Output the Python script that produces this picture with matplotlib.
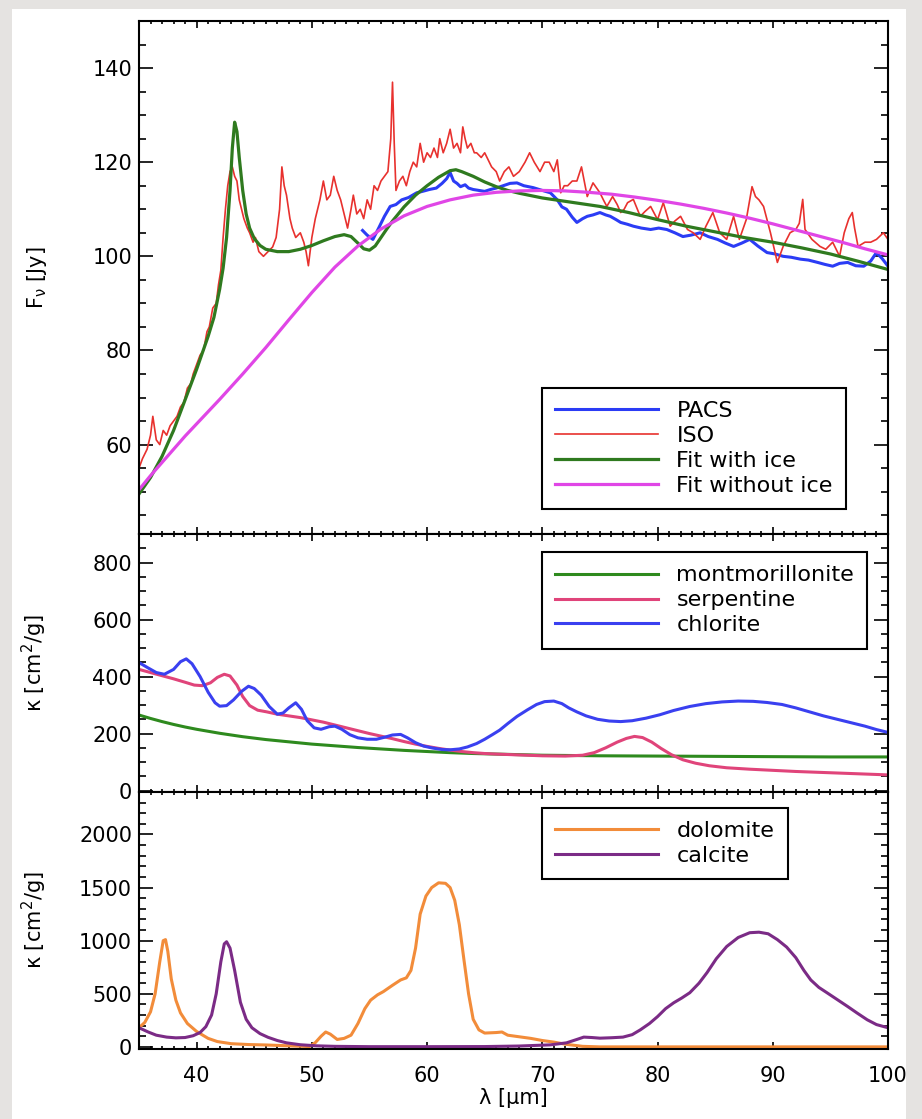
import matplotlib
matplotlib.use('Agg')
import matplotlib.pyplot as plt
from matplotlib.patches import Rectangle
from matplotlib.ticker import MultipleLocator

# ---- top panel: spectra and fits ----
iso_wl = [35.0, 35.3, 35.7, 36.0, 36.2, 36.5, 36.8, 37.1, 37.4, 37.7, 38.0, 38.3, 38.6, 38.9, 39.2,
          39.5, 39.7, 40.0, 40.3, 40.6, 40.9, 41.1, 41.4, 41.7, 41.9, 42.1, 42.3, 42.5, 42.7, 42.9,
          43.1, 43.3, 43.5, 43.7, 43.9, 44.1, 44.4, 44.6, 44.9, 45.1, 45.4, 45.8, 46.2, 46.6, 46.9,
          47.2, 47.4, 47.6, 47.8, 48.1, 48.3, 48.6, 49.0, 49.3, 49.5, 49.7, 50.0, 50.3, 50.7, 51.0,
          51.3, 51.6, 51.9, 52.2, 52.5, 52.8, 53.1, 53.4, 53.6, 53.9, 54.2, 54.5, 54.8, 55.1, 55.4,
          55.7, 56.0, 56.3, 56.6, 56.85, 57.0, 57.15, 57.3, 57.6, 57.9, 58.2, 58.5, 58.8, 59.1, 59.4,
          59.7, 60.0, 60.3, 60.6, 60.9, 61.1, 61.4, 61.7, 62.0, 62.3, 62.6, 62.9, 63.1, 63.3, 63.5,
          63.8, 64.1, 64.3, 64.7, 65.0, 65.2, 65.6, 66.0, 66.3, 66.7, 67.1, 67.5, 68.0, 68.5, 68.9,
          69.3, 69.8, 70.2, 70.6, 71.0, 71.3, 71.6, 71.9, 72.2, 72.6, 73.0, 73.4, 73.9, 74.4, 75.0,
          75.3, 75.6, 76.1, 76.5, 76.8, 77.1, 77.4, 77.9, 78.5, 78.9, 79.4, 80.0, 80.5, 81.1, 81.5,
          82.0, 82.6, 83.1, 83.7, 84.2, 84.8, 85.4, 86.0, 86.6, 87.1, 87.7, 88.2, 88.5, 88.8, 89.2,
          89.8, 90.4, 90.9, 91.5, 92.0, 92.3, 92.6, 92.8, 93.4, 94.1, 94.6, 95.2, 95.8, 96.2, 96.6,
          96.9, 97.1, 97.4, 98.0, 98.5, 99.0, 99.6, 100.0]
iso_flux = [55, 57, 59, 62, 66, 61, 60, 63, 62, 64, 65, 66, 68, 69, 72,
            73, 75, 77, 79, 80, 84, 85, 89, 90, 94, 97, 104, 110, 115, 118,
            119, 117, 116, 112, 110, 108, 106, 105, 103, 104, 101, 100, 101, 102, 104,
            110, 119, 115, 113, 108, 106, 104, 105, 103, 101, 98, 104, 108, 112, 116,
            112, 113, 117, 114, 112, 109, 106, 110, 113, 109, 110, 108, 112, 110, 115,
            114, 116, 117, 118, 125, 137, 124, 114, 116, 117, 115, 118, 120, 119, 124,
            120, 122, 121, 123, 121, 125, 122, 124, 127, 123, 124, 122, 127.5, 125, 123,
            124, 122, 122, 121, 122, 121, 119, 118, 116, 118, 119, 117, 118, 120, 122,
            120, 118, 120, 120, 118, 120.5, 113.5, 115, 115, 116, 116, 119, 112.7, 115.6, 113.5,
            112, 110.6, 112.7, 111, 109.3, 110, 111.4, 112.1, 108.5, 109.5, 110.6, 107.8, 111.4, 106.4, 107.5,
            108.5, 105.7, 105, 103.6, 106.4, 109.3, 105, 103.6, 108.5, 103.6, 107.8, 114.8, 112.7, 112, 110.6,
            105, 98.7, 102.1, 105, 105.7, 107, 112.1, 105.7, 103.6, 102.1, 101.5, 103, 100, 105, 108,
            109.3, 106, 102.1, 103, 103, 103.6, 105, 103.6]

pacs_wl = [54.4, 54.8, 55.3, 55.8, 56.3, 56.8, 57.3, 57.8, 58.4, 59.1, 59.6, 60.2, 60.8, 61.3, 61.7,
           62.0, 62.3, 62.6, 62.9, 63.3, 63.6, 64.0, 64.5, 65.0, 65.5, 66.0, 66.6, 67.2, 67.8, 68.4,
           69.2, 70.0, 70.7, 71.3, 71.7, 72.1, 72.6, 73.0, 73.5, 73.9, 74.4, 75.0, 75.5, 75.9, 76.4,
           76.8, 77.4, 77.9, 78.6, 79.4, 80.1, 80.8, 81.5, 82.2, 82.9, 83.7, 84.4, 85.2, 85.9, 86.6,
           87.3, 88.0, 88.7, 89.5, 90.2, 90.9, 91.6, 92.4, 93.1, 93.9, 94.5, 95.2, 95.8, 96.5, 97.2,
           97.9, 98.5, 99.0, 99.5, 100.0]
pacs_flux = [105.5, 104.5, 103.6, 106, 108.5, 110.6, 111, 112, 112.5, 113.5, 113.8, 114.2, 114.5, 115.5, 116.5,
             117.8, 116, 115.5, 114.8, 115.2, 114.5, 114.2, 114, 113.8, 114.2, 114.5, 115, 115.5, 115.6, 115,
             114.6, 114, 113.5, 112, 110.5, 110, 108.3, 107.2, 108, 108.5, 108.8, 109.3, 108.8, 108.5, 107.8,
             107.2, 106.8, 106.4, 106, 105.7, 106, 105.7, 105, 104.2, 104.5, 105, 104.2, 103.6, 102.8, 102.1,
             102.8, 103.6, 102.2, 100.8, 100.5, 100, 99.8, 99.4, 99.2, 98.7, 98.3, 97.9, 98.5, 98.7, 98,
             97.9, 99, 100.8, 99.5, 97.9]

ice_wl = [35, 36, 37, 38, 39, 40, 40.5, 41, 41.5, 42, 42.3, 42.6, 42.9, 43.1, 43.3, 43.5, 43.7, 44,
          44.3, 44.6, 45, 45.5, 46, 47, 48, 49, 50, 51, 52, 52.8, 53.4, 54, 54.5, 55, 55.5, 56, 56.5,
          57, 58, 59, 60, 61, 62, 62.5, 63, 64, 65, 66, 67, 68, 70, 72.5, 75, 77.5, 80, 82.5, 85,
          87.5, 90, 92.5, 95, 97.5, 100]
ice_flux = [49.5, 53, 57.5, 63, 69.5, 76, 79.5, 83, 87, 93, 97.5, 104, 114, 123, 128.5, 126.5, 121, 114,
            109, 106, 103.8, 102.3, 101.5, 101, 101, 101.5, 102.3, 103.3, 104.2, 104.6, 104.2, 102.8, 101.6, 101.3, 102.2, 104, 105.8,
            107.5, 110.5, 113, 115, 116.8, 118.2, 118.4, 118, 117, 115.8, 114.8, 114, 113.4, 112.4, 111.5, 110.6, 109.3, 107.8, 106.4, 105.2,
            104, 103, 101.8, 100.5, 98.9, 97.2]

noice_wl = [35, 36, 37.5, 39, 40, 42, 44, 46, 48, 50, 52, 54, 56, 58, 60, 62, 64, 66, 68, 70,
            72, 74, 76, 78, 80, 82, 84, 86, 88, 90, 92, 94, 96, 98, 100]
noice_flux = [50.4, 53.4, 57.6, 61.8, 64.4, 69.6, 75, 80.6, 86.5, 92.3, 97.7, 102.2, 105.8, 108.6, 110.6, 112, 113, 113.6, 113.9, 114,
              113.9, 113.6, 113.2, 112.6, 111.9, 111.1, 110.2, 109.2, 108.1, 106.9, 105.6, 104.3, 103, 101.6, 100.3]

# ---- middle panel: phyllosilicates ----
mont_wl = [35, 36, 37, 38, 39, 40, 41, 42, 43, 44, 45, 46, 47, 48, 49, 50, 52, 54, 56, 58, 60, 62,
           64, 66, 68, 70, 75, 80, 85, 90, 95, 100]
mont_k = [265, 253, 242, 232, 223, 215, 208, 201, 195, 189, 184, 179, 175, 171, 167, 163, 157, 151, 146, 141, 137, 133,
          130, 128, 126, 124, 122, 121, 120, 119, 118, 118]

serp_wl = [35, 36, 37, 38, 39, 39.8, 40.5, 41.2, 41.8, 42.4, 42.9, 43.5, 44, 44.6, 45.3, 46.1, 47, 48,
           49, 50, 51, 52, 53, 54, 55, 56, 57, 58, 59, 60, 61, 62, 63, 64, 65, 66, 68, 70, 72, 73.5,
           74.5, 75.5, 76.5, 77.3, 78, 78.7, 79.5, 80.3, 81.2, 82.2, 83.3, 84.5, 86, 88, 90, 92, 94, 96, 98, 100]
serp_k = [425, 414, 403, 392, 380, 370, 368, 378, 397, 408, 402, 370, 330, 298, 282, 276, 268, 262,
          256, 248, 240, 230, 220, 210, 200, 191, 182, 172, 163, 155, 148, 142, 137, 133, 130, 128, 125, 122, 121, 124,
          133, 150, 170, 183, 190, 186, 170, 148, 126, 108, 96, 87, 80, 75, 71, 67, 64, 61, 58, 55]

chl_wl = [35, 35.8, 36.5, 37.2, 38, 38.6, 39.1, 39.6, 40.3, 41, 41.6, 42, 42.6, 43.2, 43.9, 44.5, 45,
          45.6, 46.3, 47, 47.5, 48, 48.6, 49.1, 49.6, 50.2, 50.8, 51.5, 52, 52.6, 53.3, 54, 54.8, 55.6,
          56.3, 57, 57.7, 58.3, 59, 59.7, 60.5, 61.3, 62, 62.8, 63.5, 64.3, 65, 65.7, 66.3, 67, 67.8,
          68.7, 69.5, 70.2, 71, 71.7, 72.3, 73, 73.8, 74.8, 75.8, 76.8, 77.8, 79, 80.2, 81.4, 82.8,
          84.2, 85.6, 87, 88.3, 89.5, 90.8, 92, 93.2, 94.4, 95.6, 96.8, 98, 99, 100]
chl_k = [449, 430, 414, 408, 425, 452, 462, 445, 400, 345, 308, 296, 298, 318, 348, 366, 358,
         335, 295, 268, 272, 290, 308, 285, 245, 220, 215, 224, 226, 215, 196, 185, 180, 180,
         187, 195, 197, 185, 168, 156, 149, 144, 143, 146, 153, 165, 180, 197, 212, 235, 260,
         283, 302, 312, 314, 305, 290, 276, 262, 250, 244, 242, 245, 254, 266, 281, 295,
         305, 311, 314, 313, 309, 302, 290, 276, 262, 250, 238, 226, 214, 204]

# ---- bottom panel: carbonates ----
dol_wl = [35, 35.5, 36, 36.4, 36.8, 37.1, 37.3, 37.5, 37.8, 38.2, 38.6, 39.2, 40, 41, 41.8, 43, 44.5,
          46, 48, 49.8, 50.3, 50.8, 51.2, 51.6, 52.2, 52.8, 53.4, 54, 54.6, 55.1, 55.7, 56.2, 57, 57.7,
          58.2, 58.6, 59, 59.4, 59.9, 60.4, 61, 61.6, 62, 62.4, 62.8, 63.2, 63.6, 64, 64.5, 65, 66,
          66.5, 67, 68, 69, 70, 71, 72, 73.5, 75, 80, 85, 90, 95, 100]
dol_k = [180, 230, 330, 500, 800, 1000, 1010, 900, 640, 440, 320, 220, 145, 80, 50, 30, 22,
         18, 10, 3, 40, 100, 140, 120, 70, 80, 110, 220, 360, 440, 490, 520, 580, 630,
         650, 720, 930, 1250, 1420, 1500, 1545, 1540, 1500, 1380, 1150, 820, 500, 260, 160, 130, 135,
         140, 110, 95, 80, 60, 45, 25, 5, 0, 0, 0, 0, 0, 0]

cal_wl = [35, 35.8, 36.5, 37.4, 38.2, 39, 39.7, 40.3, 40.8, 41.3, 41.7, 42.1, 42.4, 42.6, 42.9, 43.3,
          43.8, 44.3, 44.8, 45.5, 46.2, 47, 47.8, 49, 50.4, 52, 55, 60, 65, 68, 70.7, 72.1, 73, 73.6,
          74.3, 75, 76, 77, 77.8, 78.5, 79.3, 80, 80.7, 81.4, 82.1, 82.8, 83.6, 84.3, 85.1, 86, 87,
          88, 88.8, 89.6, 90.4, 91.2, 92, 92.7, 93.3, 94, 94.7, 95.6, 96.5, 97.3, 98.2, 99, 100]
cal_k = [180, 140, 110, 92, 85, 88, 105, 135, 190, 300, 500, 800, 970, 990, 930, 720,
         420, 260, 180, 125, 90, 60, 38, 20, 10, 5, 2, 2, 3, 8, 19, 38, 70, 92,
         88, 82, 86, 92, 115, 160, 220, 285, 360, 415, 460, 510, 600, 700, 830, 945, 1030,
         1075, 1080, 1065, 1010, 940, 840, 720, 630, 560, 510, 445, 380, 320, 255, 210, 180]


plt.rcParams['font.family'] = 'DejaVu Sans'
plt.rcParams['font.size'] = 15

fig = plt.figure(figsize=(9.22, 11.19), dpi=100, facecolor='#e5e3e1')
fig.add_artist(Rectangle((12 / 922., 0), 894 / 922., 1110 / 1119., transform=fig.transFigure,
                         facecolor='white', edgecolor='none', zorder=-10))

left, width = 139 / 922., 749 / 922.
ax1 = fig.add_axes([left, 1 - 534 / 1119., width, 513 / 1119.])
ax2 = fig.add_axes([left, 1 - 792 / 1119., width, 258 / 1119.])
ax3 = fig.add_axes([left, 1 - 1049 / 1119., width, 257 / 1119.])

ax1.plot(pacs_wl, pacs_flux, color='#2b3cf5', lw=2.2, label='PACS')
ax1.plot(iso_wl, iso_flux, color='#e8312e', lw=1.2, label='ISO')
ax1.plot(ice_wl, ice_flux, color='#2f7a1f', lw=2.3, label='Fit with ice')
ax1.plot(noice_wl, noice_flux, color='#e046e6', lw=2.3, label='Fit without ice')
ax1.set_ylim(41, 150)
ax1.yaxis.set_major_locator(MultipleLocator(20))
ax1.yaxis.set_minor_locator(MultipleLocator(5))
ax1.set_ylabel(r'F$_\mathrm{\nu}$ [Jy]')

ax2.plot(mont_wl, mont_k, color='#2e8a1e', lw=2.2, label='montmorillonite')
ax2.plot(serp_wl, serp_k, color='#e0447a', lw=2.2, label='serpentine')
ax2.plot(chl_wl, chl_k, color='#3a40f0', lw=2.2, label='chlorite')
ax2.set_ylim(-5, 900)
ax2.yaxis.set_major_locator(MultipleLocator(200))
ax2.yaxis.set_minor_locator(MultipleLocator(50))
ax2.set_ylabel(u'κ [cm$^2$/g]')

ax3.plot(dol_wl, dol_k, color='#f28c3a', lw=2.2, label='dolomite')
ax3.plot(cal_wl, cal_k, color='#7b2b86', lw=2.2, label='calcite')
ax3.set_ylim(-20, 2400)
ax3.yaxis.set_major_locator(MultipleLocator(500))
ax3.yaxis.set_minor_locator(MultipleLocator(100))
ax3.set_ylabel(u'κ [cm$^2$/g]')
ax3.set_xlabel(u'λ [μm]')
ax3.xaxis.set_label_coords(0.5, -0.15)

legend_pos = {ax1: (0.538, 0.285), ax2: (0.538, 0.93), ax3: (0.538, 0.938)}

for ax in (ax1, ax2, ax3):
    ax.set_xlim(35, 100)
    ax.xaxis.set_major_locator(MultipleLocator(10))
    ax.xaxis.set_minor_locator(MultipleLocator(1))
    ax.tick_params(which='both', direction='in', top=True, right=True, width=1.2)
    ax.tick_params(axis='x', which='major', length=5, pad=12)
    ax.tick_params(axis='x', which='minor', length=2.5)
    ax.tick_params(axis='y', which='major', length=10, pad=5)
    ax.tick_params(axis='y', which='minor', length=5)
    for sp in ax.spines.values():
        sp.set_linewidth(1.5)
    ax.yaxis.set_label_coords(-0.12, 0.5)
    if ax is not ax3:
        ax.tick_params(axis='x', labelbottom=False)
    leg = ax.legend(loc='upper left', bbox_to_anchor=legend_pos[ax], borderaxespad=0,
                    fontsize=16, handlelength=4.6, handletextpad=0.85, labelspacing=0.22,
                    borderpad=0.6, fancybox=False, framealpha=1, edgecolor='black')
    leg.get_frame().set_linewidth(1.5)

fig.savefig('out.png', dpi=100, facecolor=fig.get_facecolor())
